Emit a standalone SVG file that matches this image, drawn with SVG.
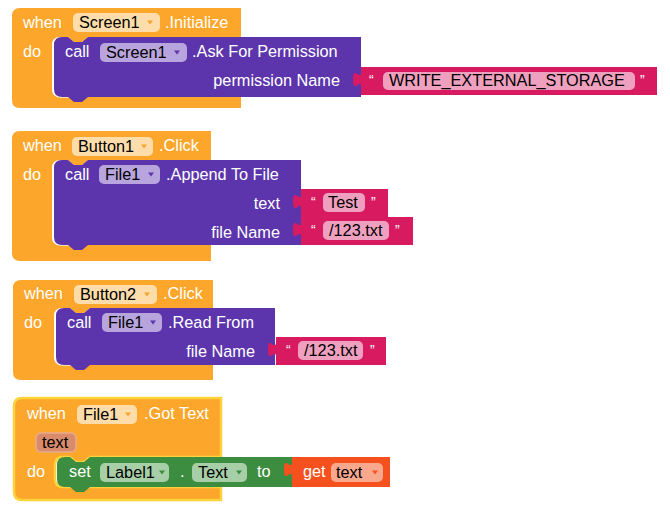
<svg xmlns="http://www.w3.org/2000/svg" width="670" height="515" viewBox="0 0 670 515">
<style>
text{font-family:"Liberation Sans",Arial,sans-serif;font-size:16.3px;fill:#fff}
.dk{fill:#000}
.q{font-size:14px}
.ev{fill:#FCA62B}
.pu{fill:#5C35AC}
.pk{fill:#D81B60}
.gr{fill:#3C8D40}
.gt{fill:#F4511E}
.dOr{fill:#FEDDAA}
.aOr{fill:#F7A42A}
.dPu{fill:#B9A5DD}
.aPu{fill:#5C35AC}
.dPk{fill:#F0A0BF}
.dGr{fill:#A6CFA7}
.aGr{fill:#3C8D40}
.dGt{fill:#F9A88E}
.aGt{fill:#F4511E}
.hl{fill:none;stroke:#fff;stroke-width:1.5;opacity:.85}
</style>
<defs>
<path id="arr" d="M-3,-2 H3 L0,2 Z"/>
</defs>
<rect width="670" height="515" fill="#fff"/>
<g id="connectors"/>

<g id="screen1-initialize">
<path class="ev" d="M12,16 Q12,8 20,8 H241 V37 H88 l-6,5 h-8 l-6,-5 H60 Q52,37 52,45 V89 Q52,97 60,97 H241 V108 H20 Q12,108 12,100 Z"/>
<path class="hl" d="M53,88 Q53,97 61,97 H70"/>
<text x="23" y="28">when</text>
<rect class="dOr" x="73" y="13" width="87" height="19" rx="5"/>
<text class="dk" x="79" y="28">Screen1</text>
<use href="#arr" class="aOr" x="150" y="22.5"/>
<text x="165" y="28">.Initialize</text>
<text x="23" y="57">do</text>
</g>
<g id="ask-permission">
<path class="pu" d="M54,45 Q54,37 62,37 H68 l6,5 h8 l6,-5 H361 V97 H88 l-6,5 h-8 l-6,-5 H62 Q54,97 54,89 Z"/>
<text x="65" y="57">call</text>
<rect class="dPu" x="100" y="43" width="87" height="19" rx="5"/>
<text class="dk" x="106" y="58">Screen1</text>
<use href="#arr" class="aPu" x="177" y="52.5"/>
<text x="192" y="57">.Ask For Permission</text>
<text x="340" y="86" text-anchor="end">permission Name</text>
</g>
<g id="str-write-external">
<path class="pk" d="M657,67 H361 V72 c0,10 -8,-8 -8,7.5 s8,-2.5 8,7.5 V95 H657 Z"/>
<text class="q" x="369" y="85">“</text>
<rect class="dPk" x="383" y="72" width="252" height="18" rx="5"/>
<text class="dk" x="389" y="86">WRITE_EXTERNAL_STORAGE</text>
<text class="q" x="640" y="85">”</text>
</g>

<g id="button1-click">
<path class="ev" d="M12,139 Q12,131 20,131 H211 V160 H88 l-6,5 h-8 l-6,-5 H60 Q52,160 52,168 V237 Q52,245 60,245 H211 V261 H20 Q12,261 12,253 Z"/>
<path class="hl" d="M53,236 Q53,245 61,245 H70"/>
<text x="23" y="151">when</text>
<rect class="dOr" x="72" y="137" width="81" height="19" rx="5"/>
<text class="dk" x="78" y="152">Button1</text>
<use href="#arr" class="aOr" x="144" y="146.5"/>
<text x="159" y="151">.Click</text>
<text x="23" y="180">do</text>
</g>
<g id="append-to-file">
<path class="pu" d="M54,168 Q54,160 62,160 H68 l6,5 h8 l6,-5 H301 V245 H88 l-6,5 h-8 l-6,-5 H62 Q54,245 54,237 Z"/>
<text x="65" y="180">call</text>
<rect class="dPu" x="99" y="165" width="61" height="19" rx="5"/>
<text class="dk" x="105" y="180">File1</text>
<use href="#arr" class="aPu" x="151" y="174.5"/>
<text x="166" y="180">.Append To File</text>
<text x="280" y="209" text-anchor="end">text</text>
<text x="280" y="238" text-anchor="end">file Name</text>
</g>
<g id="str-test">
<path class="pk" d="M388,189 H301 V194 c0,10 -8,-8 -8,7.5 s8,-2.5 8,7.5 V217 H388 Z"/>
<text class="q" x="311" y="207">“</text>
<rect class="dPk" x="323" y="193" width="42" height="19" rx="5"/>
<text class="dk" x="328" y="208">Test</text>
<text class="q" x="371" y="207">”</text>
</g>
<g id="str-123-a">
<path class="pk" d="M413,217 H301 V222 c0,10 -8,-8 -8,7.5 s8,-2.5 8,7.5 V245 H413 Z"/>
<text class="q" x="311" y="235">“</text>
<rect class="dPk" x="323" y="221" width="66" height="19" rx="5"/>
<text class="dk" x="329" y="236">/123.txt</text>
<text class="q" x="395" y="235">”</text>
</g>

<g id="button2-click">
<path class="ev" d="M13,288 Q13,280 21,280 H213 V308 H90 l-6,5 h-8 l-6,-5 H62 Q54,308 54,316 V357 Q54,365 62,365 H213 V380 H21 Q13,380 13,372 Z"/>
<path class="hl" d="M55,356 Q55,365 63,365 H72"/>
<text x="24" y="299">when</text>
<rect class="dOr" x="74" y="285" width="83" height="19" rx="5"/>
<text class="dk" x="80" y="300">Button2</text>
<use href="#arr" class="aOr" x="147" y="294.5"/>
<text x="163" y="299">.Click</text>
<text x="24" y="328">do</text>
</g>
<g id="read-from">
<path class="pu" d="M56,316 Q56,308 64,308 H70 l6,5 h8 l6,-5 H275 V365 H90 l-6,5 h-8 l-6,-5 H64 Q56,365 56,357 Z"/>
<text x="67" y="328">call</text>
<rect class="dPu" x="102" y="313" width="60" height="19" rx="5"/>
<text class="dk" x="108" y="328">File1</text>
<use href="#arr" class="aPu" x="153" y="322.5"/>
<text x="168" y="328">.Read From</text>
<text x="255" y="357" text-anchor="end">file Name</text>
</g>
<g id="str-123-b">
<path class="pk" d="M386,337 H276 V342 c0,10 -8,-8 -8,7.5 s8,-2.5 8,7.5 V365 H386 Z"/>
<text class="q" x="286" y="355">“</text>
<rect class="dPk" x="298" y="341" width="65" height="19" rx="5"/>
<text class="dk" x="304" y="356">/123.txt</text>
<text class="q" x="370" y="355">”</text>
</g>

<g id="file1-gottext">
<path class="ev" stroke="#FDD23B" stroke-width="2.5" d="M14,406 Q14,398 22,398 H221 V457 H90 l-6,5 h-8 l-6,-5 H63 Q55,457 55,465 V479 Q55,487 63,487 H221 V500 H22 Q14,500 14,492 Z"/>
<text x="27" y="419">when</text>
<rect class="dOr" x="77" y="405" width="60" height="19" rx="5"/>
<text class="dk" x="83" y="420">File1</text>
<use href="#arr" class="aOr" x="128" y="414.5"/>
<text x="144" y="419">.Got Text</text>
<rect x="36" y="433" width="40" height="19" rx="5" fill="#D98B6B" stroke="#E9AB8E" stroke-width="1.5"/>
<text class="dk" x="42" y="448">text</text>
<text x="27" y="477">do</text>
</g>
<g id="set-label1-text">
<path class="gr" d="M57,465 Q57,457 65,457 H70 l6,5 h8 l6,-5 H292 V487 H90 l-6,5 h-8 l-6,-5 H65 Q57,487 57,479 Z"/>
<text x="69" y="477">set</text>
<rect class="dGr" x="100" y="463" width="69" height="19" rx="5"/>
<text class="dk" x="106" y="478">Label1</text>
<use href="#arr" class="aGr" x="162" y="472.5"/>
<text x="180" y="477">.</text>
<rect class="dGr" x="192" y="463" width="55" height="19" rx="5"/>
<text class="dk" x="198" y="478">Text</text>
<use href="#arr" class="aGr" x="239" y="472.5"/>
<text x="257" y="477">to</text>
</g>
<g id="get-text">
<path class="gt" d="M390,457 H292 V462 c0,10 -8,-8 -8,7.5 s8,-2.5 8,7.5 V487 H390 Z"/>
<text x="303" y="477">get</text>
<rect class="dGt" x="331" y="463" width="52" height="19" rx="5"/>
<text class="dk" x="336" y="478">text</text>
<use href="#arr" class="aGt" x="375" y="472.5"/>
</g>
</svg>
